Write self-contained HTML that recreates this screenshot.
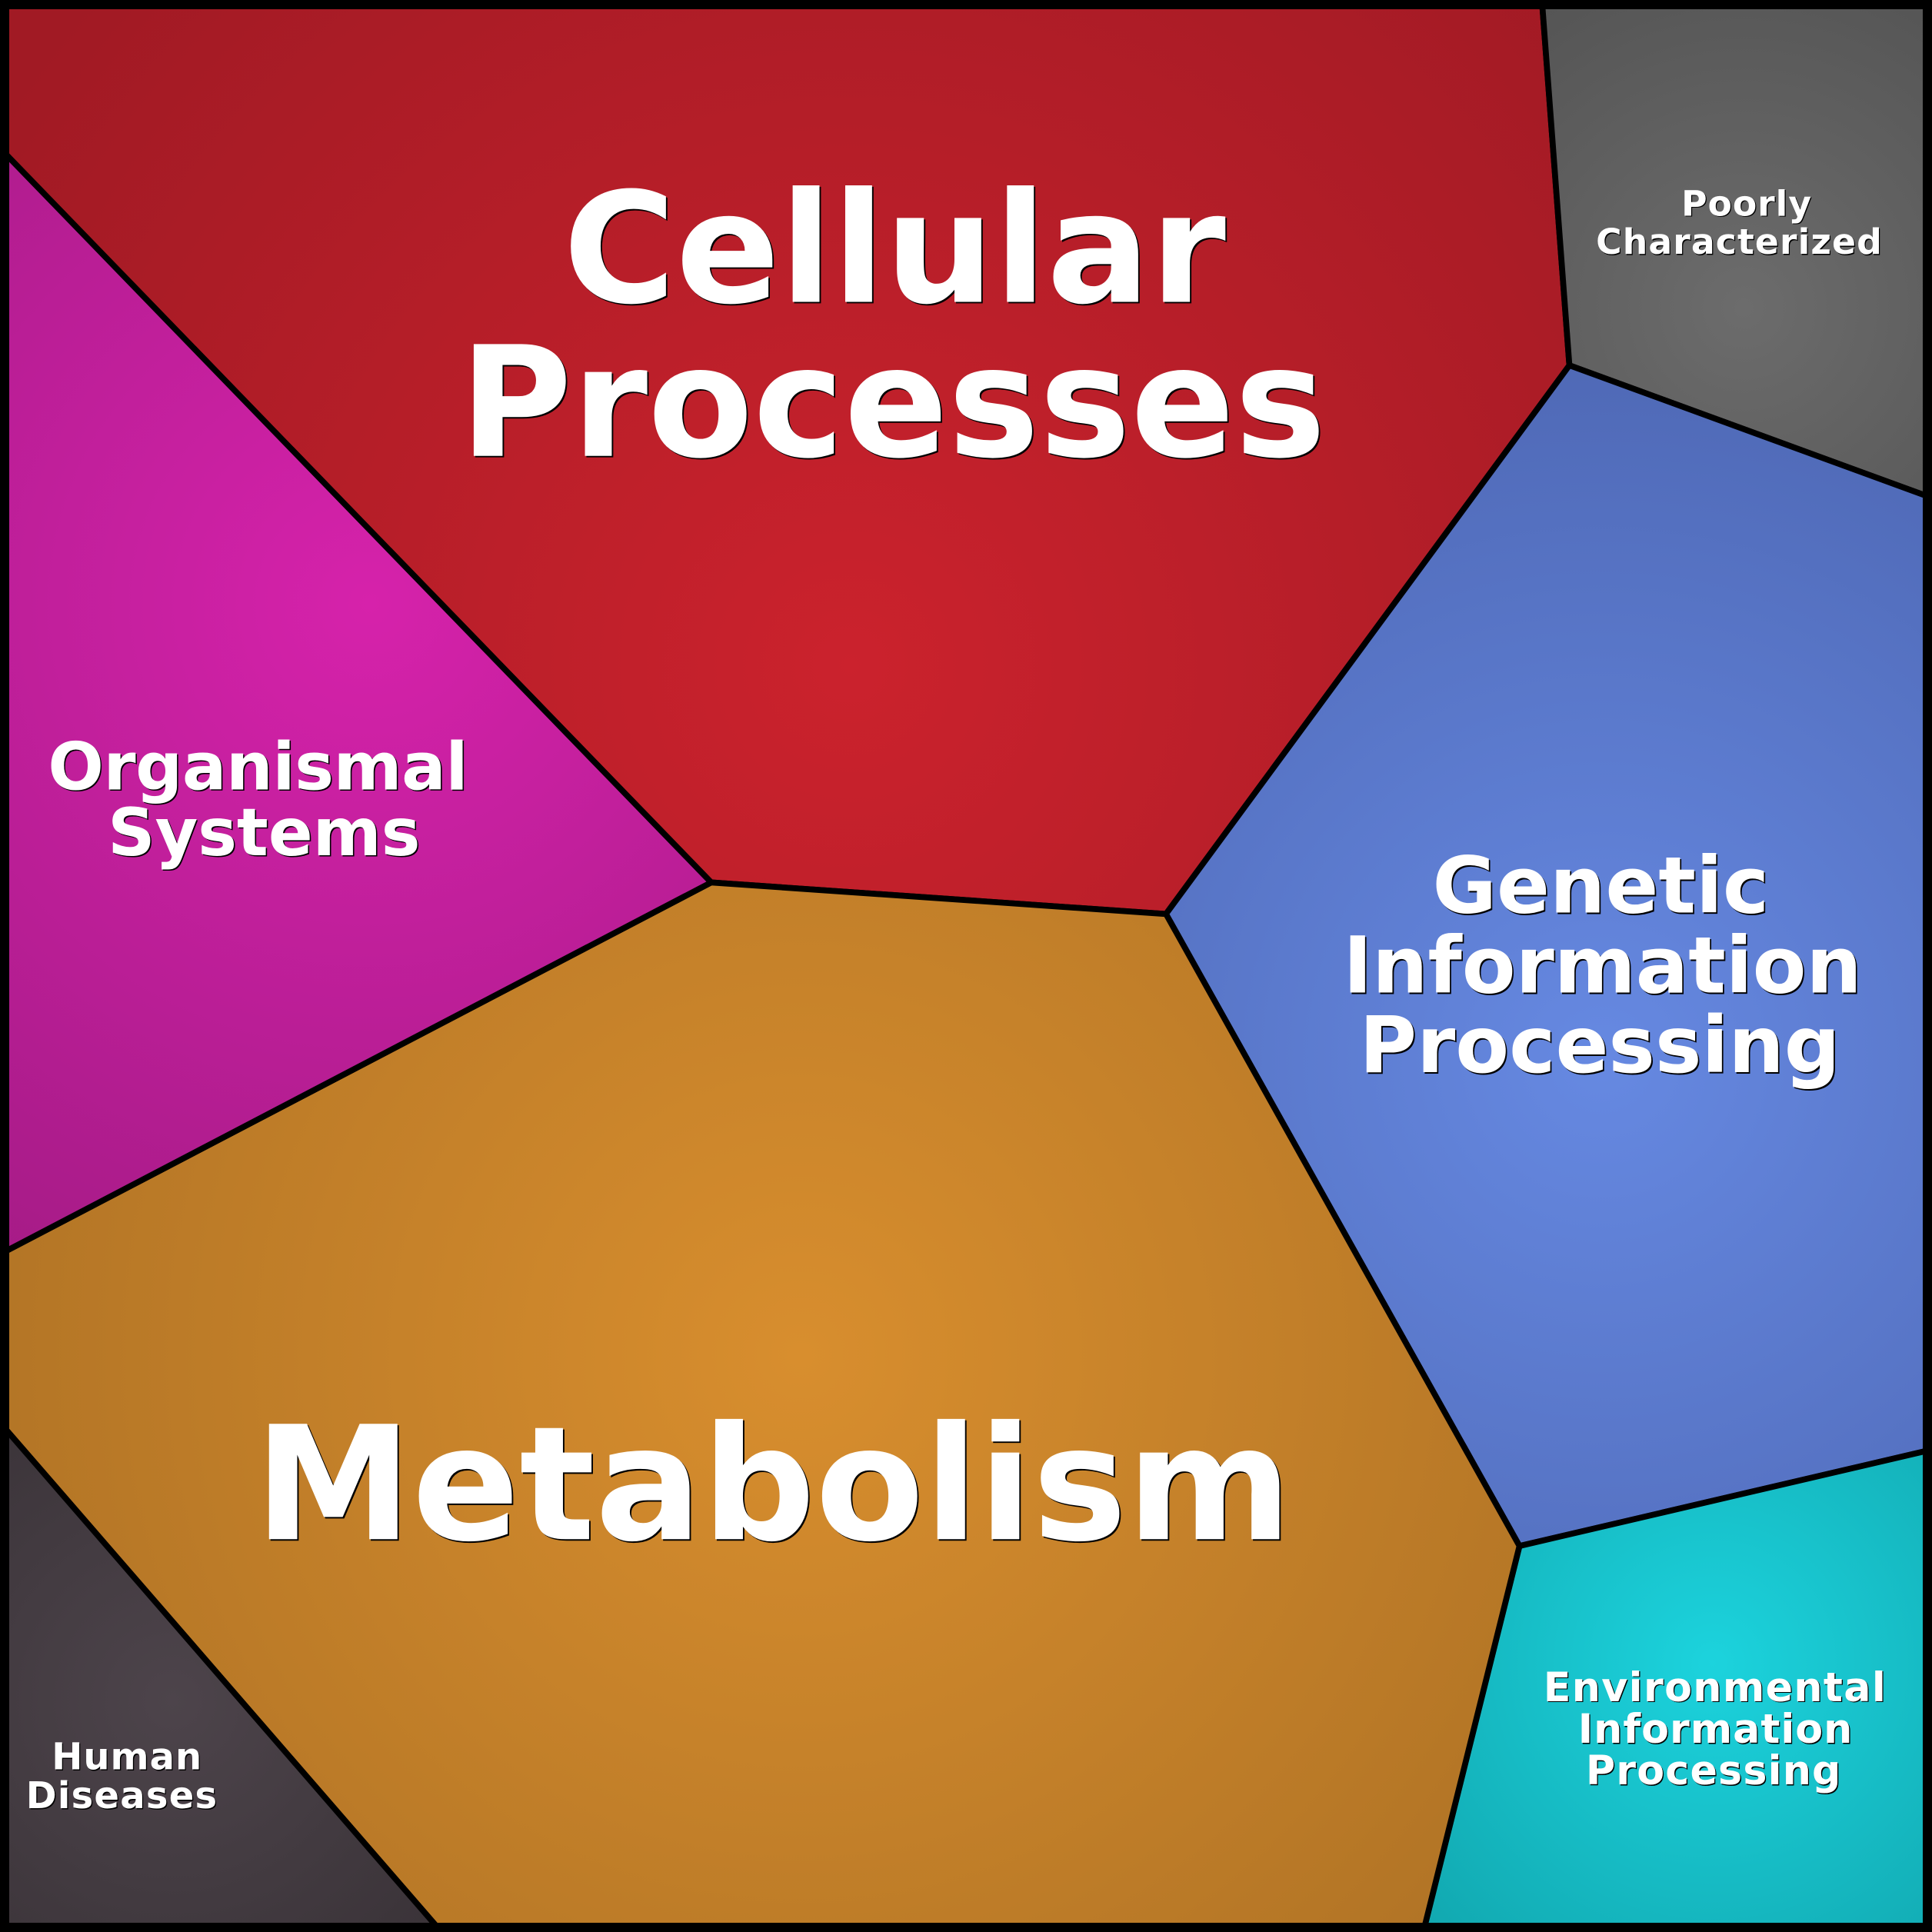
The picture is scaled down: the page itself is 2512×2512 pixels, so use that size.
<!DOCTYPE html>
<html>
<head>
<meta charset="utf-8">
<style>
  html, body { margin: 0; padding: 0; background: #000; }
  body { width: 2512px; height: 2512px; overflow: hidden; }
  svg { display: block; }
  text { font-family: "DejaVu Sans", "Liberation Sans", sans-serif; font-weight: bold; text-anchor: middle; }
  .sh { fill: #000; }
  .fg { fill: #fff; }
</style>
</head>
<body>
<svg width="2512" height="2512" viewBox="0 0 1568 1568" xmlns="http://www.w3.org/2000/svg">
  <defs>
    <radialGradient id="gCell" gradientUnits="userSpaceOnUse" cx="690" cy="540" r="820">
      <stop offset="0" stop-color="#cb222d"/>
      <stop offset="1" stop-color="#a11a24"/>
    </radialGradient>
    <radialGradient id="gPoor" gradientUnits="userSpaceOnUse" cx="1415" cy="250" r="290">
      <stop offset="0" stop-color="#6c6c6c"/>
      <stop offset="1" stop-color="#555555"/>
    </radialGradient>
    <radialGradient id="gGen" gradientUnits="userSpaceOnUse" cx="1300" cy="860" r="620">
      <stop offset="0" stop-color="#6689e2"/>
      <stop offset="1" stop-color="#4d66b2"/>
    </radialGradient>
    <radialGradient id="gEnv" gradientUnits="userSpaceOnUse" cx="1390" cy="1350" r="330">
      <stop offset="0" stop-color="#1cd3dd"/>
      <stop offset="1" stop-color="#11a6ae"/>
    </radialGradient>
    <radialGradient id="gMet" gradientUnits="userSpaceOnUse" cx="650" cy="1100" r="720">
      <stop offset="0" stop-color="#d88e2e"/>
      <stop offset="1" stop-color="#b07325"/>
    </radialGradient>
    <radialGradient id="gHum" gradientUnits="userSpaceOnUse" cx="140" cy="1380" r="300">
      <stop offset="0" stop-color="#4d444b"/>
      <stop offset="1" stop-color="#393237"/>
    </radialGradient>
    <radialGradient id="gOrg" gradientUnits="userSpaceOnUse" cx="300" cy="490" r="620">
      <stop offset="0" stop-color="#d622ab"/>
      <stop offset="1" stop-color="#a51b86"/>
    </radialGradient>
  </defs>

  <g stroke="#000" stroke-width="4.8" stroke-linejoin="miter">
    <polygon fill="url(#gCell)" points="0,0 1251.4,0 1273.7,296.5 946.3,741.8 577.2,716.2 0,120.3"/>
    <polygon fill="url(#gPoor)" points="1251.4,0 1568,0 1568,404.1 1273.7,296.5"/>
    <polygon fill="url(#gGen)" points="1273.7,296.5 1568,404.1 1568,1176.5 1233.2,1254.7 946.3,741.8"/>
    <polygon fill="url(#gEnv)" points="1233.2,1254.7 1568,1176.5 1568,1568 1155.1,1568"/>
    <polygon fill="url(#gMet)" points="577.2,716.2 946.3,741.8 1233.2,1254.7 1155.1,1568 358.3,1568 0,1154.6 0,1017.9"/>
    <polygon fill="url(#gHum)" points="0,1154.6 358.3,1568 0,1568"/>
    <polygon fill="url(#gOrg)" points="0,120.3 577.2,716.2 0,1017.9"/>
  </g>

  <!-- frame -->
  <rect x="3.75" y="3.75" width="1560.5" height="1560.5" rx="2.5" fill="none" stroke="#000" stroke-width="7.5"/>

  <!-- Cellular Processes -->
  <g font-size="124.5">
    <text class="sh" x="727.2" y="246.2">Cellular</text>
    <text class="fg" x="726" y="245">Cellular</text>
    <text class="sh" x="725.8" y="371.2">Processes</text>
    <text class="fg" x="724.6" y="370">Processes</text>
  </g>

  <!-- Metabolism -->
  <g font-size="128.5">
    <text class="sh" x="628.7" y="1250.4">Metabolism</text>
    <text class="fg" x="627.5" y="1249.2">Metabolism</text>
  </g>

  <!-- Genetic Information Processing -->
  <g font-size="63.5">
    <text class="sh" x="1300.3" y="741.8">Genetic</text>
    <text class="fg" x="1299.2" y="740.7">Genetic</text>
    <text class="sh" x="1301.7" y="806.7" textLength="421" lengthAdjust="spacing">Information</text>
    <text class="fg" x="1300.6" y="805.6" textLength="421" lengthAdjust="spacing">Information</text>
    <text class="sh" x="1299.5" y="871.3">Processing</text>
    <text class="fg" x="1298.4" y="870.2">Processing</text>
  </g>

  <!-- Organismal Systems -->
  <g font-size="53.3">
    <text class="sh" x="210.4" y="641.8" textLength="341" lengthAdjust="spacing">Organismal</text>
    <text class="fg" x="209.4" y="640.8" textLength="341" lengthAdjust="spacing">Organismal</text>
    <text class="sh" x="215.3" y="695">Systems</text>
    <text class="fg" x="214.3" y="694">Systems</text>
  </g>

  <!-- Poorly Characterized -->
  <g font-size="28.5">
    <text class="sh" x="1418.1" y="175.8" textLength="105.5" lengthAdjust="spacing">Poorly</text>
    <text class="fg" x="1417.3" y="175" textLength="105.5" lengthAdjust="spacing">Poorly</text>
    <text class="sh" x="1412.1" y="206.8" textLength="232" lengthAdjust="spacing">Characterized</text>
    <text class="fg" x="1411.3" y="206" textLength="232" lengthAdjust="spacing">Characterized</text>
  </g>

  <!-- Environmental Information Processing -->
  <g font-size="32.6">
    <text class="sh" x="1392.3" y="1381.4" textLength="277.8" lengthAdjust="spacing">Environmental</text>
    <text class="fg" x="1391.5" y="1380.6" textLength="277.8" lengthAdjust="spacing">Environmental</text>
    <text class="sh" x="1392.8" y="1415.3" textLength="222.6" lengthAdjust="spacing">Information</text>
    <text class="fg" x="1392" y="1414.5" textLength="222.6" lengthAdjust="spacing">Information</text>
    <text class="sh" x="1391.3" y="1449" textLength="207" lengthAdjust="spacing">Processing</text>
    <text class="fg" x="1390.5" y="1448.2" textLength="207" lengthAdjust="spacing">Processing</text>
  </g>

  <!-- Human Diseases -->
  <g font-size="30">
    <text class="sh" x="103.6" y="1436.8" textLength="121.7" lengthAdjust="spacing">Human</text>
    <text class="fg" x="102.8" y="1436" textLength="121.7" lengthAdjust="spacing">Human</text>
    <text class="sh" x="99.4" y="1468.4" textLength="155" lengthAdjust="spacing">Diseases</text>
    <text class="fg" x="98.6" y="1467.6" textLength="155" lengthAdjust="spacing">Diseases</text>
  </g>
</svg>
</body>
</html>
